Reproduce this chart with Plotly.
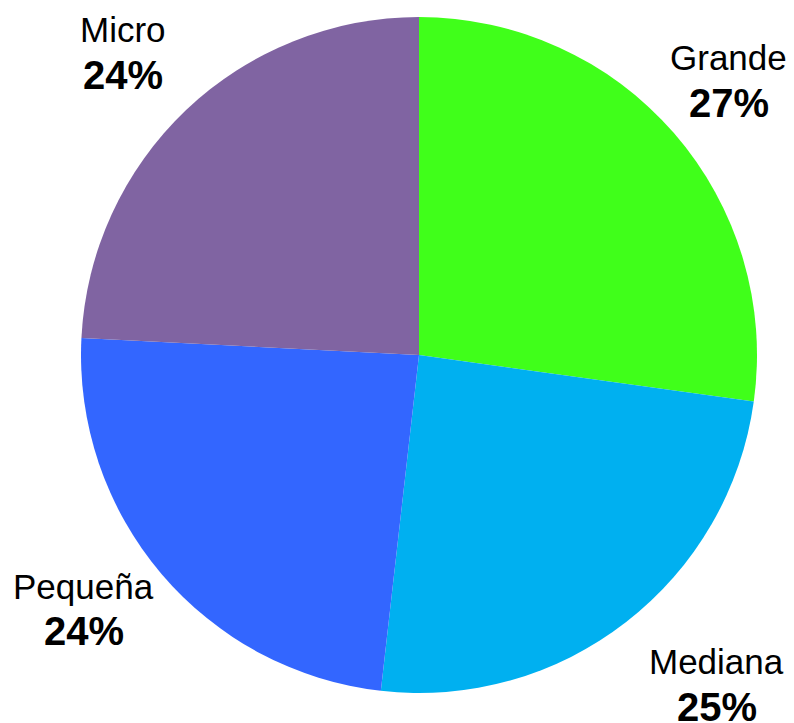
import math
import plotly.graph_objects as go

# datos del gráfico (orden horario desde las 12)
categorias = ["Grande", "Mediana", "Pequeña", "Micro"]
valores = [27.2, 24.6, 24.0, 24.2]
colores = ["#40FF1A", "#00B0F0", "#3366FF", "#8064A2"]

W, H = 794, 723
OFF = 8  # margen del body de la página
cx, cy, R = 419 - OFF, 355 - OFF, 338

fig = go.Figure(
    go.Pie(
        labels=categorias,
        values=valores,
        sort=False,
        direction="clockwise",
        rotation=0,
        textinfo="none",
        hoverinfo="label+percent",
        marker=dict(colors=colores, line=dict(width=0)),
        domain=dict(
            x=[(cx - R) / W, (cx + R) / W],
            y=[(H - cy - R) / H, (H - cy + R) / H],
        ),
        showlegend=False,
    )
)

# etiquetas fuera del pastel, en el ángulo medio de cada porción (+ ajuste fino)
ajuste = [(-9, 2), (39, -5), (-13, -20), (-5, 3)]
total = sum(valores)
acum = 0
anot = []
for cat, v, (dx, dy) in zip(categorias, valores, ajuste):
    mid = (acum + v / 2) / total * 2 * math.pi
    acum += v
    px_ = cx + 1.25 * R * math.sin(mid) + dx
    py_ = cy - 1.25 * R * math.cos(mid) + dy
    xp, yp = px_ / W, 1 - py_ / H
    anot.append(dict(x=xp, y=yp, xref="paper", yref="paper", text=cat,
                     xanchor="center", yanchor="middle",
                     showarrow=False, yshift=22,
                     font=dict(family="Liberation Sans, Arial", size=35, color="black")))
    anot.append(dict(x=xp, y=yp, xref="paper", yref="paper",
                     text="<b>%d%%</b>" % round(v / total * 100),
                     xanchor="center", yanchor="middle",
                     showarrow=False, yshift=-23,
                     font=dict(family="Liberation Sans, Arial", size=40, color="black")))

fig.update_layout(
    width=W,
    height=H,
    margin=dict(l=0, r=0, t=0, b=0),
    paper_bgcolor="white",
    plot_bgcolor="white",
    annotations=anot,
)

fig.write_html("out.html")
